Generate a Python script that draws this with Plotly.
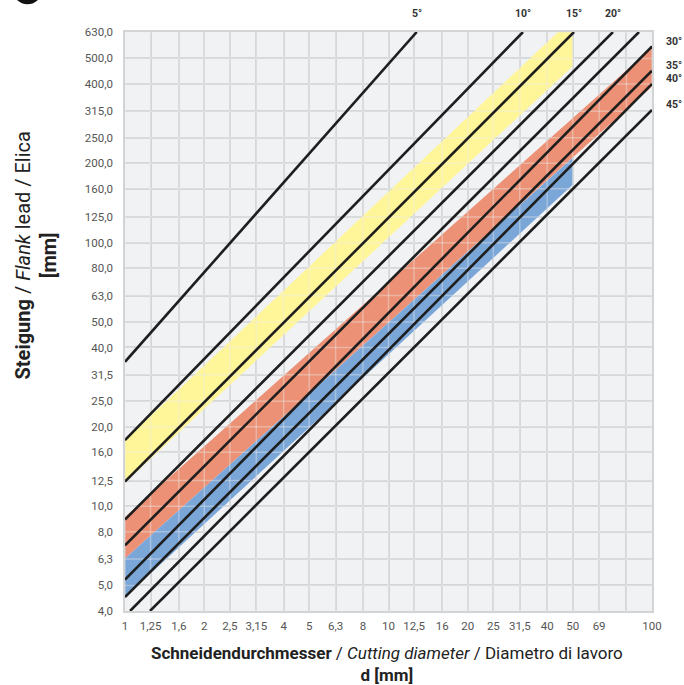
import math
import plotly.graph_objects as go

# axis ticks (R10 series, log-log grid)
diam_ticks = [1, 1.25, 1.6, 2, 2.5, 3.15, 4, 5, 6.3, 8, 10, 12.5, 16, 20, 25, 31.5, 40, 50, 63, 80, 100]
diam_labels = ["1", "1,25", "1,6", "2", "2,5", "3,15", "4", "5", "6,3", "8", "10", "12,5",
               "16", "20", "25", "31,5", "40", "50", "69", "", "100"]
lead_ticks = [4, 5, 6.3, 8, 10, 12.5, 16, 20, 25, 31.5, 40, 50, 63, 80, 100, 125, 160,
              200, 250, 315, 400, 500, 630]
lead_labels = ["4,0", "5,0", "6,3", "8,0", "10,0", "12,5", "16,0", "20,0", "25,0", "31,5",
               "40,0", "50,0", "63,0", "80,0", "100,0", "125,0", "160,0", "200,0", "250,0",
               "315,0", "400,0", "500,0", "630,0"]

# helix angle lines (start / end points)
angle_names = ["5°", "10°", "15°", "20°", "", "30°", "35°", "40°", "45°"]
angle_d_start = [1, 1, 1, 1, 1, 1, 1, 1.045, 1.244]
angle_lead_start = [35.3, 17.8, 12.4, 8.9, 7.1, 5.26, 4.52, 4, 4]
angle_d_end = [12.8, 32.4, 50.6, 71.1, 89.3, 100, 100, 100, 100]
angle_lead_end = [630, 630, 630, 630, 630, 556, 449, 400, 319]

# application ranges (polygon corners)
yellow_d = [1, 44.0, 50, 50, 1]
yellow_lead = [17.8, 630, 630, 467, 12.3]
red_d = [1, 100, 100, 1]
red_lead = [9.1, 550, 391, 6.33]
blue_d = [1, 50, 50, 1]
blue_lead = [6.33, 210, 165.7, 4.52]

FONT = "Roboto"
GRID = "#d3d4d6"

fig = go.Figure()

for xs, ys, col in [
    (yellow_d, yellow_lead, "#fff599"),
    (red_d, red_lead, "#ec9175"),
    (blue_d, blue_lead, "#7aa6d8"),
]:
    fig.add_trace(go.Scatter(x=xs, y=ys, fill="toself", fillcolor=col, mode="lines",
                             line=dict(width=0), hoverinfo="skip", showlegend=False))

# light grid drawn over the coloured bands
gx, gy = [], []
for v in diam_ticks:
    gx += [v, v, None]
    gy += [lead_ticks[0], lead_ticks[-1], None]
for v in lead_ticks:
    gx += [diam_ticks[0], diam_ticks[-1], None]
    gy += [v, v, None]
fig.add_trace(go.Scatter(x=gx, y=gy, mode="lines", line=dict(color="rgba(236,236,236,0.4)", width=1.5),
                         hoverinfo="skip", showlegend=False))

for i, name in enumerate(angle_names):
    fig.add_trace(go.Scatter(
        x=[angle_d_start[i], angle_d_end[i]],
        y=[angle_lead_start[i], angle_lead_end[i]],
        mode="lines", line=dict(color="#1e1e1e", width=2.6),
        name=name, hoverinfo="skip", showlegend=False,
    ))
    if not name:
        continue
    if angle_lead_end[i] >= lead_ticks[-1]:
        fig.add_annotation(x=math.log10(angle_d_end[i]), xref="x", y=1.032, yref="paper",
                           text=f"<b>{name}</b>", showarrow=False, xanchor="center", yanchor="middle",
                           font=dict(family=FONT, size=10.5, color="#333"))
    else:
        fig.add_annotation(x=1.022, xref="paper", y=math.log10(angle_lead_end[i]), yref="y",
                           yshift=5, text=f"<b>{name}</b>", showarrow=False, xanchor="left",
                           yanchor="middle", font=dict(family=FONT, size=10.5, color="#333"))

fig.add_annotation(
    x=0.497, y=-0.052, xref="paper", yref="paper", xanchor="center", yanchor="top",
    text="<b>Schneidendurchmesser</b> / <i>Cutting diameter</i> / Diametro di lavoro<br><b>d [mm]</b>",
    showarrow=False, font=dict(family=FONT, size=17, color="#222"),
)
fig.add_annotation(
    x=-0.167, y=0.614, xref="paper", yref="paper", xanchor="center", yanchor="middle",
    textangle=-90,
    text="<b>Steigung</b> / <i>Flank</i> lead / Elica<br><b>[mm]</b>",
    showarrow=False, font=dict(family=FONT, size=20, color="#222"),
)

# cut-off badge at the top left
fig.add_shape(type="circle", xref="paper", yref="paper", x0=-0.2135, x1=-0.1565,
              y0=1.048, y1=1.100, fillcolor="#111", line=dict(width=0))

axis_common = dict(
    type="log", showgrid=True, gridcolor=GRID, gridwidth=1.5, zeroline=False,
    showline=True, linecolor=GRID, linewidth=1.5, mirror=True, ticks="",
    tickfont=dict(family=FONT, size=11.5, color="#555"),
)
fig.update_xaxes(range=[0, 2], tickvals=diam_ticks, ticktext=diam_labels,
                 ticklabelstandoff=3, **axis_common)
fig.update_yaxes(range=[math.log10(4), math.log10(630)], tickvals=lead_ticks,
                 ticktext=lead_labels, ticklabelstandoff=8, **axis_common)

fig.update_layout(
    width=684, height=685,
    margin=dict(l=125, r=32, t=32, b=74),
    plot_bgcolor="#f1f2f4", paper_bgcolor="white",
    showlegend=False,
)

fig.write_html("out.html", config={"displayModeBar": False},
               post_script="document.body.style.margin='0';")
